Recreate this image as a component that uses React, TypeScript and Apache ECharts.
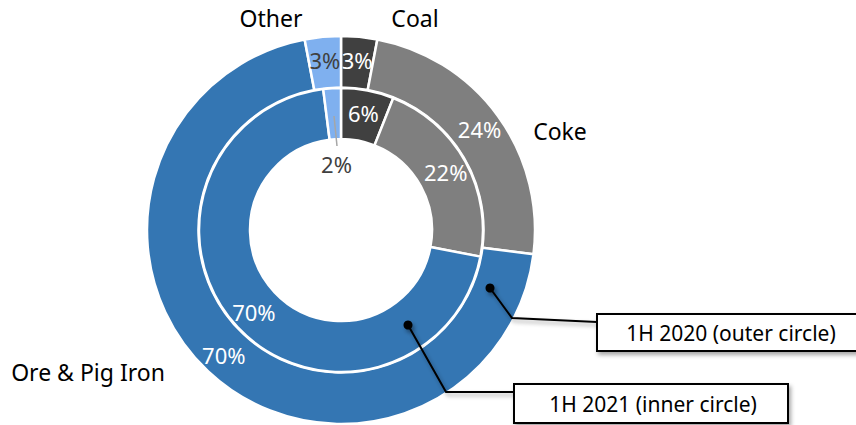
import React, { useEffect, useRef } from "react";
import * as echarts from "echarts";

const categories = ["Coal", "Coke", "Ore & Pig Iron", "Other"];
const outer2020 = [3, 24, 70, 3];
const inner2021 = [6, 22, 70, 2];
const colors = ["#404040", "#7f7f7f", "#3476b3", "#7fb0ef"];
const labelColors = ["#ffffff", "#ffffff", "#ffffff", "#404040"];
const outerCaption = "1H 2020 (outer circle)";
const innerCaption = "1H 2021 (inner circle)";

const FONT = "'Noto Sans', sans-serif";

export default function App() {
  const ref = useRef<HTMLDivElement>(null);

  useEffect(() => {
    if (!ref.current) return;
    const chart = echarts.init(ref.current, undefined, { renderer: "svg" });

    const makeData = (vals: number[]) =>
      vals.map((v, i) => ({
        name: categories[i],
        value: v,
        itemStyle: { color: colors[i] },
        label: { color: labelColors[i] },
      }));

    const baseSeries = {
      type: "pie",
      center: [341, 230],
      startAngle: 90,
      clockwise: true,
      silent: true,
      z: 2,
      itemStyle: { borderColor: "#ffffff", borderWidth: 2.5 },
      label: {
        show: true,
        position: "inside",
        formatter: "{c}%",
        fontFamily: FONT,
        fontSize: 22,
      },
      labelLine: { show: false },
      emphasis: { disabled: true },
    };

    const shadow = {
      shadowBlur: 4,
      shadowOffsetX: 2,
      shadowOffsetY: 3,
      shadowColor: "rgba(0,0,0,0.35)",
    };

    const nameText = (text: string, x: number, y: number) => ({
      type: "text",
      x,
      y,
      z: 100,
      style: {
        text,
        fontFamily: FONT,
        fontSize: 23,
        fill: "#000000",
        align: "center",
        verticalAlign: "middle",
      },
    });

    chart.setOption({
      animation: false,
      backgroundColor: "#ffffff",
      series: [
        {
          ...baseSeries,
          name: "1H 2020",
          radius: [142.5, 194],
          data: makeData(outer2020),
        },
        {
          ...baseSeries,
          name: "1H 2021",
          radius: [91, 142],
          data: makeData(inner2021),
          labelLayout: (p: any) =>
            p.dataIndex === 3 ? { dx: 3, dy: 53 } : {},
        },
      ],
      graphic: [
        nameText(categories[0], 415, 18),
        nameText(categories[3], 271, 18),
        nameText(categories[1], 560, 131),
        nameText(categories[2], 88, 372),
        {
          type: "line",
          z: 100,
          shape: { x1: 334, y1: 116, x2: 337, y2: 146 },
          style: { stroke: "#a6a6a6", lineWidth: 1.5 },
        },
        // outer callout
        {
          type: "polyline",
          z: 100,
          shape: { points: [[490, 288], [512, 318], [597, 322]] },
          style: { stroke: "#000000", lineWidth: 2, fill: null, ...shadow },
        },
        {
          type: "circle",
          z: 100,
          shape: { cx: 490, cy: 288, r: 4.5 },
          style: { fill: "#000000", ...shadow },
        },
        {
          type: "rect",
          z: 100,
          shape: { x: 597, y: 314, width: 270, height: 37 },
          style: { fill: "#ffffff", stroke: "#000000", lineWidth: 2, ...shadow },
        },
        {
          type: "text",
          z: 101,
          x: 731,
          y: 333,
          style: {
            text: outerCaption,
            fontFamily: FONT,
            fontSize: 21,
            fill: "#000000",
            align: "center",
            verticalAlign: "middle",
          },
        },
        // inner callout
        {
          type: "polyline",
          z: 100,
          shape: { points: [[408, 325], [446, 392], [514, 392]] },
          style: { stroke: "#000000", lineWidth: 2, fill: null, ...shadow },
        },
        {
          type: "circle",
          z: 100,
          shape: { cx: 408, cy: 325, r: 4.5 },
          style: { fill: "#000000", ...shadow },
        },
        {
          type: "rect",
          z: 100,
          shape: { x: 514, y: 384, width: 274, height: 39 },
          style: { fill: "#ffffff", stroke: "#000000", lineWidth: 2, ...shadow },
        },
        {
          type: "text",
          z: 101,
          x: 653,
          y: 404,
          style: {
            text: innerCaption,
            fontFamily: FONT,
            fontSize: 21,
            fill: "#000000",
            align: "center",
            verticalAlign: "middle",
          },
        },
      ],
    });

    return () => chart.dispose();
  }, []);

  return (
    <div
      ref={ref}
      style={{ position: "absolute", left: 0, top: 0, width: 856, height: 425 }}
    />
  );
}
